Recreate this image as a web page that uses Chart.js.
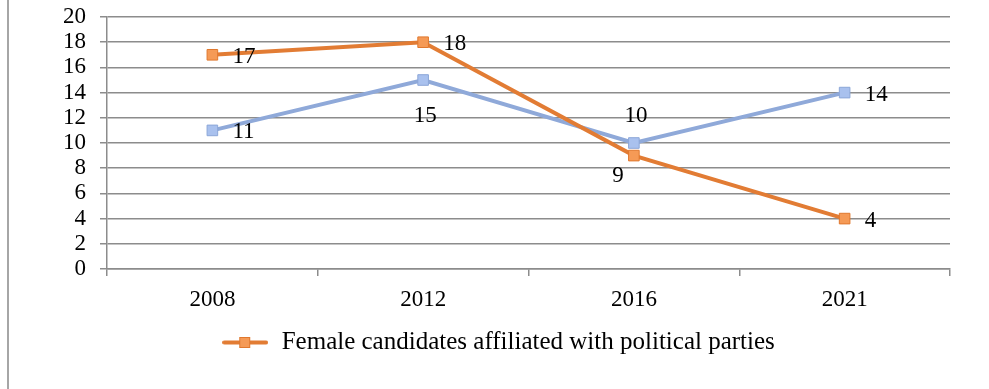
<!DOCTYPE html>
<html>
<head>
<meta charset="utf-8">
<script src="https://cdn.jsdelivr.net/npm/chart.js@4.4.1/dist/chart.umd.min.js"></script>
<style>
  body { margin: 0; background: #fff; }
  #wrap { position: relative; width: 989px; height: 389px; }
  #edge { position: absolute; left: 7px; top: 0; width: 2px; height: 389px; background: #a6a6a6; }
</style>
</head>
<body>
<div id="wrap">
  <canvas id="chart" width="989" height="389"></canvas>
  <div id="edge"></div>
</div>
<script>
const years = ['2008', '2012', '2016', '2021']
const affiliated = [17, 18, 9, 4]
const otherSeries = [11, 15, 10, 14]
const yTicks = [0, 2, 4, 6, 8, 10, 12, 14, 16, 18, 20]

const serif = "'Liberation Serif', 'Times New Roman', serif"
const fontSize = 23
const gridGrey = '#8c8c8c'
const orange = { line: '#e27c34', fill: '#f59a56', border: '#e0782e' }
const blue = { line: '#8fa9d9', fill: '#a9c1ee', border: '#8ca7d8' }

Chart.defaults.font.family = serif
Chart.defaults.font.size = fontSize
Chart.defaults.color = '#000'

// legend swatch: short line with a square marker in the middle
function legendSwatch(c) {
    const cv = document.createElement('canvas')
    cv.width = 46
    cv.height = 13
    const g = cv.getContext('2d')
    g.strokeStyle = c.line
    g.lineWidth = 4
    g.lineCap = 'round'
    g.beginPath()
    g.moveTo(2, 6.5)
    g.lineTo(44, 6.5)
    g.stroke()
    g.fillStyle = c.fill
    g.strokeStyle = c.border
    g.lineWidth = 1
    g.fillRect(17.5, 1.5, 10, 10)
    g.strokeRect(17.5, 1.5, 10, 10)
    return cv
}

// legend sits a little right of the plot centre and a bit lower
const nudgeLegend = {
    id: 'nudgeLegend',
    afterLayout(chart) {
        const lg = chart.legend
        lg.left += 46
        lg.top += 5
        lg.bottom += 5
    }
}

// value labels next to each point
const valueLabels = {
    id: 'valueLabels',
    afterDatasetsDraw(chart) {
        const ctx = chart.ctx
        ctx.save()
        ctx.font = fontSize + 'px ' + serif
        ctx.fillStyle = '#000'
        ctx.textBaseline = 'middle'
        chart.data.datasets.forEach((ds, i) => {
            const meta = chart.getDatasetMeta(i)
            meta.data.forEach((pt, j) => {
                const text = String(ds.data[j])
                const where = ds.labelPos[j]
                if (where === 'right') {
                    ctx.textAlign = 'left'
                    ctx.fillText(text, pt.x + 20, pt.y + 2)
                } else if (where === 'below') {
                    ctx.textAlign = 'center'
                    ctx.fillText(text, pt.x + 2, pt.y + 36)
                } else if (where === 'above') {
                    ctx.textAlign = 'center'
                    ctx.fillText(text, pt.x + 2, pt.y - 27)
                } else if (where === 'belowLeft') {
                    ctx.textAlign = 'center'
                    ctx.fillText(text, pt.x - 16, pt.y + 20)
                }
            })
        })
        ctx.restore()
    }
}

const config = {
    type: 'line',
    data: {
        labels: years,
        datasets: [{
            label: 'Female candidates affiliated with political parties',
            data: affiliated,
            labelPos: ['right', 'right', 'belowLeft', 'right'],
            borderColor: orange.line,
            borderWidth: 4,
            pointStyle: 'rect',
            pointRadius: 7.5,
            pointHoverRadius: 7.5,
            pointBackgroundColor: orange.fill,
            pointBorderColor: orange.border,
            pointBorderWidth: 1,
            tension: 0,
            order: 1
        }, {
            label: 'other',
            data: otherSeries,
            labelPos: ['right', 'below', 'above', 'right'],
            borderColor: blue.line,
            borderWidth: 4,
            pointStyle: 'rect',
            pointRadius: 7.5,
            pointHoverRadius: 7.5,
            pointBackgroundColor: blue.fill,
            pointBorderColor: blue.border,
            pointBorderWidth: 1,
            tension: 0,
            order: 2
        }]
    },
    options: {
        responsive: false,
        animation: false,
        layout: {
            padding: { left: 0, right: 39, top: 17, bottom: 29 }
        },
        plugins: {
            tooltip: { enabled: false },
            legend: {
                position: 'bottom',
                labels: {
                    usePointStyle: true,
                    pointStyleWidth: 48,
                    padding: 10,
                    font: { size: 25, family: serif },
                    color: '#000',
                    filter: (item) => item.datasetIndex === 0,
                    generateLabels: (chart) => chart.data.datasets.map((ds, i) => ({
                        text: ds.label,
                        datasetIndex: i,
                        pointStyle: legendSwatch(orange),
                        fontColor: '#000',
                        lineWidth: 0
                    }))
                }
            }
        },
        scales: {
            x: {
                offset: true,
                grid: {
                    offset: true,
                    drawOnChartArea: false,
                    tickLength: 7,
                    tickColor: gridGrey,
                    lineWidth: 1.5
                },
                border: { color: gridGrey, width: 1.5 },
                ticks: { color: '#000', padding: 10 },
                afterFit: (s) => { s.height = 46 }
            },
            y: {
                min: 0,
                max: 20,
                afterBuildTicks: (s) => { s.ticks = yTicks.map(v => ({ value: v })) },
                grid: {
                    color: gridGrey,
                    lineWidth: 1.5,
                    tickLength: 7,
                    tickColor: gridGrey
                },
                border: { color: gridGrey, width: 1.5 },
                ticks: { color: '#000', padding: 14, autoSkip: false },
                afterFit: (s) => {
                    s.width = 107
                    s.paddingTop = 0
                    s.paddingBottom = 0
                }
            }
        }
    },
    plugins: [nudgeLegend, valueLabels]
}

new Chart(document.getElementById('chart'), config)
</script>
</body>
</html>
